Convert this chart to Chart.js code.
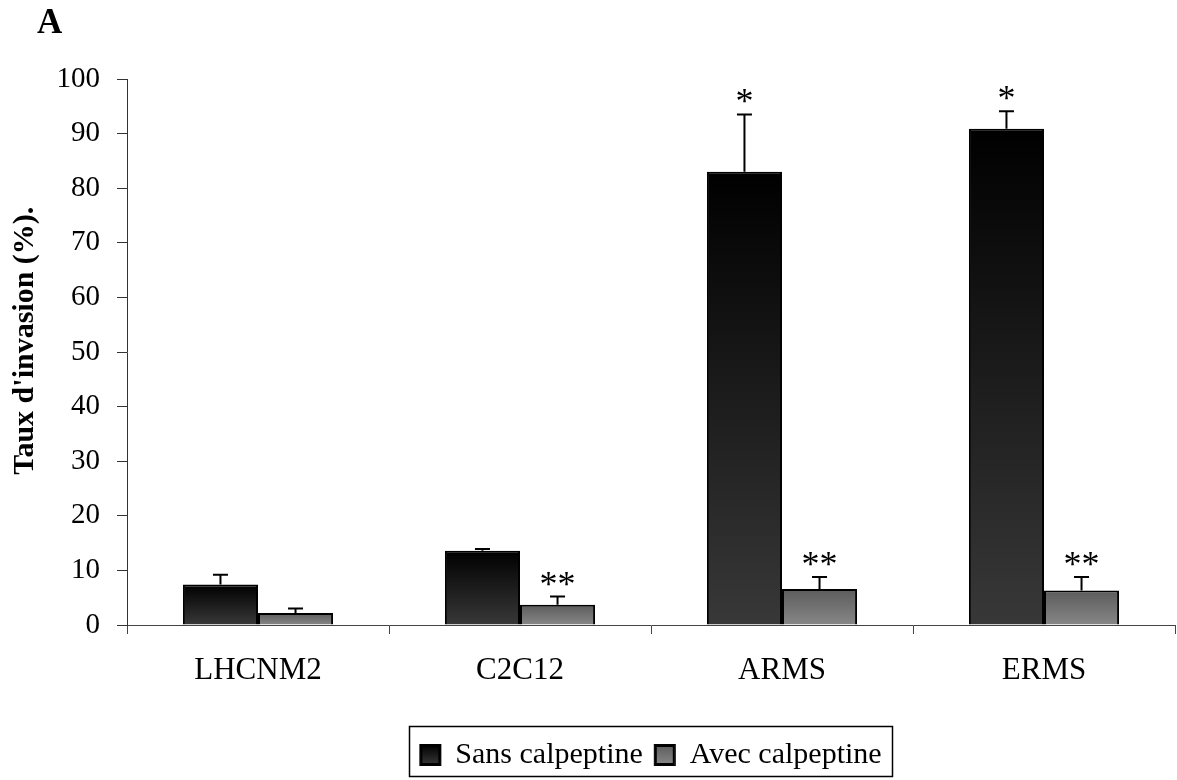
<!DOCTYPE html>
<html>
<head>
<meta charset="utf-8">
<script src="https://cdn.jsdelivr.net/npm/chart.js@4.4.0/dist/chart.umd.min.js"></script>
<style>
  html, body { margin: 0; padding: 0; background: #fff; }
  #wrap { position: relative; width: 1177px; height: 780px; }
</style>
</head>
<body>
<div id="wrap"><canvas id="c" width="1177" height="780"></canvas></div>
<script>
const categories = ['LHCNM2', 'C2C12', 'ARMS', 'ERMS'];
const sansValues = [7.4, 13.6, 83.0, 90.9];
const sansErrors = [1.8, 0.3, 10.5, 3.2];
const avecValues = [2.2, 3.7, 6.6, 6.3];
const avecErrors = [0.8, 1.5, 2.2, 2.5];
const sansMarks = ['', '', '*', '*'];
const avecMarks = ['', '**', '**', '**'];
const yTicks = [0, 10, 20, 30, 40, 50, 60, 70, 80, 90, 100];
const seriesNames = ['Sans calpeptine', 'Avec calpeptine'];

const SERIF = '"Liberation Serif", "Times New Roman", serif';
const FILLS = [
  { top: '#000000', bottom: '#383838', flat: '#222222' },
  { top: '#5c5c5c', bottom: '#878787', flat: '#737373' }
];

function gradFill(f) {
  return (ctx) => {
    if (ctx.type !== 'data') return f.flat;
    const chart = ctx.chart;
    const ys = chart.scales.y;
    if (!ys || !chart.chartArea) return f.flat;
    const y0 = ys.getPixelForValue(ctx.raw);
    const y1 = ys.getPixelForValue(0);
    if (!isFinite(y0) || !isFinite(y1) || y0 === y1) return f.flat;
    const g = chart.ctx.createLinearGradient(0, y0, 0, y1);
    g.addColorStop(0, f.top);
    g.addColorStop(1, f.bottom);
    return g;
  };
}

const errorBarPlugin = {
  id: 'errorBars',
  afterDatasetsDraw(chart) {
    const c = chart.ctx;
    const ys = chart.scales.y;
    const errs = [sansErrors, avecErrors];
    const marks = [sansMarks, avecMarks];
    c.save();
    chart.data.datasets.forEach((ds, i) => {
      const meta = chart.getDatasetMeta(i);
      meta.data.forEach((bar, j) => {
        const v = ds.data[j];
        const e = errs[i][j];
        const yb = ys.getPixelForValue(v);
        const yt = ys.getPixelForValue(v + e);
        c.strokeStyle = '#000';
        c.lineWidth = 2;
        c.beginPath();
        c.moveTo(bar.x, yb);
        c.lineTo(bar.x, yt);
        c.moveTo(bar.x - 7.5, yt);
        c.lineTo(bar.x + 7.5, yt);
        c.stroke();
        const m = marks[i][j];
        if (m) {
          c.fillStyle = '#000';
          c.font = '36px ' + SERIF;
          c.textAlign = 'center';
          c.textBaseline = 'alphabetic';
          c.fillText(m, bar.x, yt - 1);
        }
      });
    });
    c.restore();
  }
};

const decorPlugin = {
  id: 'decor',
  afterDraw(chart) {
    const c = chart.ctx;
    c.save();
    // panel letter
    c.fillStyle = '#000';
    c.font = 'bold 35px ' + SERIF;
    c.textAlign = 'left';
    c.textBaseline = 'alphabetic';
    c.fillText('A', 37, 33);
    // legend swatches with gradient + frame
    const lg = chart.legend;
    if (lg && lg.legendHitBoxes && lg.legendHitBoxes.length) {
      const hb = lg.legendHitBoxes;
      const bw = lg.options.labels.boxWidth, bh = lg.options.labels.boxHeight;
      hb.forEach((h, i) => {
        const x = h.left, y = h.top + (h.height - bh) / 2;
        const g = c.createLinearGradient(0, y, 0, y + bh);
        g.addColorStop(0, FILLS[i].top);
        g.addColorStop(1, FILLS[i].bottom);
        c.fillStyle = g;
        c.fillRect(x, y, bw, bh);
        c.strokeStyle = '#000';
        c.lineWidth = 2;
        c.strokeRect(x + 1, y + 1, bw - 2, bh - 2);
      });
      const l = Math.min(...hb.map(h => h.left)) - 11;
      const r = Math.max(...hb.map(h => h.left + h.width)) + 11;
      const t = hb[0].top - 14;
      const b = hb[0].top + hb[0].height + 6;
      c.strokeStyle = '#000';
      c.lineWidth = 1.5;
      c.strokeRect(Math.round(l) + 0.5, Math.round(t) + 0.5, Math.round(r - l), Math.round(b - t));
    }
    c.restore();
  }
};

new Chart(document.getElementById('c'), {
  type: 'bar',
  data: {
    labels: categories,
    datasets: [
      {
        label: seriesNames[0],
        data: sansValues,
        backgroundColor: gradFill(FILLS[0]),
        borderColor: '#000',
        borderWidth: 2,
        categoryPercentage: 0.573,
        barPercentage: 1.0
      },
      {
        label: seriesNames[1],
        data: avecValues,
        backgroundColor: gradFill(FILLS[1]),
        borderColor: '#000',
        borderWidth: 2,
        categoryPercentage: 0.573,
        barPercentage: 1.0
      }
    ]
  },
  options: {
    responsive: false,
    animation: false,
    devicePixelRatio: 1,
    layout: { padding: { left: 7, right: 2, top: 79, bottom: 0 } },
    scales: {
      x: {
        grid: {
          display: true,
          drawOnChartArea: false,
          drawTicks: true,
          tickLength: 9,
          color: '#444',
          offset: true
        },
        border: { display: true, color: '#444', width: 1 },
        ticks: {
          color: '#000',
          font: { family: SERIF, size: 31 },
          padding: 18
        },
        afterFit(scale) { scale.height = 103; }
      },
      y: {
        min: 0,
        max: 100,
        afterBuildTicks(scale) { scale.ticks = yTicks.map(v => ({ value: v })); },
        grid: {
          display: true,
          drawOnChartArea: false,
          drawTicks: true,
          tickLength: 10,
          color: '#333'
        },
        border: { display: true, color: '#333', width: 1 },
        ticks: {
          color: '#000',
          font: { family: SERIF, size: 29 },
          padding: 17
        },
        title: {
          display: true,
          text: "   Taux d'invasion (%).",
          color: '#000',
          font: { family: SERIF, size: 30, weight: 'bold' },
          padding: { top: 0, bottom: 0 }
        },
        afterFit(scale) { scale.width = 120; }
      }
    },
    plugins: {
      legend: {
        display: true,
        position: 'bottom',
        fullSize: false,
        labels: {
          color: '#000',
          font: { family: SERIF, size: 30 },
          boxWidth: 20,
          boxHeight: 20,
          padding: 12
        }
      },
      tooltip: { enabled: false }
    }
  },
  plugins: [errorBarPlugin, decorPlugin]
});
</script>
</body>
</html>
